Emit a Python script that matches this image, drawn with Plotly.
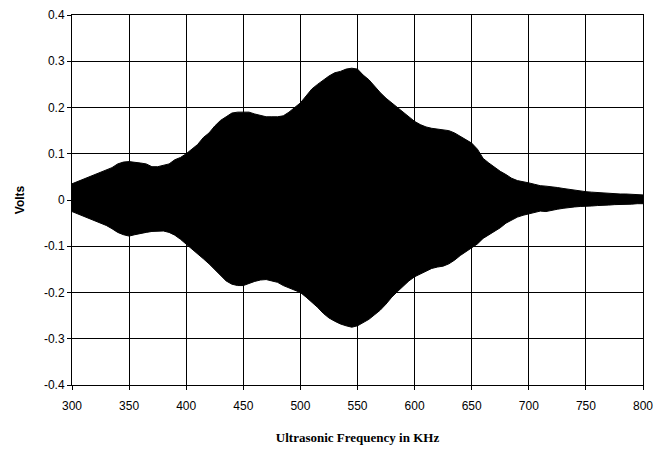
import plotly.graph_objects as go

freq_khz = list(range(300, 801, 5))

upper_volts = [
    0.035, 0.040, 0.045, 0.050, 0.055, 0.060, 0.065, 0.070, 0.078, 0.082,
    0.083, 0.082, 0.080, 0.078, 0.072, 0.072, 0.075, 0.078, 0.087, 0.092,
    0.100, 0.110, 0.120, 0.135, 0.145, 0.160, 0.172, 0.180, 0.188, 0.190,
    0.190, 0.190, 0.186, 0.183, 0.180, 0.180, 0.180, 0.182, 0.190, 0.200,
    0.210, 0.225, 0.240, 0.250, 0.260, 0.268, 0.275, 0.278, 0.283, 0.285,
    0.283, 0.270, 0.260, 0.245, 0.232, 0.220, 0.210, 0.200, 0.190, 0.180,
    0.170, 0.163, 0.158, 0.155, 0.153, 0.152, 0.150, 0.145, 0.138, 0.130,
    0.123, 0.110, 0.090, 0.080, 0.070, 0.062, 0.055, 0.047, 0.042, 0.040,
    0.037, 0.034, 0.031, 0.030, 0.029, 0.027, 0.025, 0.023, 0.022, 0.020,
    0.018, 0.017, 0.016, 0.015, 0.015, 0.014, 0.013, 0.013, 0.012, 0.012,
    0.011,
]

lower_volts = [
    -0.025, -0.030, -0.035, -0.040, -0.045, -0.050, -0.055, -0.062, -0.070, -0.075,
    -0.078, -0.075, -0.072, -0.070, -0.068, -0.068, -0.067, -0.070, -0.076, -0.085,
    -0.095, -0.105, -0.115, -0.127, -0.138, -0.150, -0.163, -0.175, -0.182, -0.185,
    -0.185, -0.180, -0.176, -0.173, -0.172, -0.175, -0.178, -0.185, -0.190, -0.196,
    -0.200, -0.210, -0.220, -0.232, -0.245, -0.255, -0.262, -0.268, -0.272, -0.275,
    -0.272, -0.265, -0.258, -0.248, -0.238, -0.225, -0.210, -0.198, -0.186, -0.175,
    -0.166, -0.160, -0.153, -0.148, -0.145, -0.143, -0.138, -0.130, -0.120, -0.112,
    -0.104, -0.095, -0.083, -0.075, -0.068, -0.060, -0.050, -0.043, -0.037, -0.033,
    -0.030, -0.027, -0.024, -0.025, -0.022, -0.020, -0.018, -0.016, -0.015, -0.014,
    -0.014, -0.013, -0.012, -0.012, -0.011, -0.010, -0.010, -0.009, -0.009, -0.008,
    -0.008,
]

x_ticks = [300, 350, 400, 450, 500, 550, 600, 650, 700, 750, 800]
y_ticks = [0.4, 0.3, 0.2, 0.1, 0, -0.1, -0.2, -0.3, -0.4]
y_tick_labels = ["0.4", "0.3", "0.2", "0.1", "0", "-0.1", "-0.2", "-0.3", "-0.4"]

fig = go.Figure()
fig.add_trace(go.Scatter(
    x=freq_khz, y=lower_volts, mode="lines",
    line=dict(color="black", width=1), showlegend=False, hoverinfo="skip",
))
fig.add_trace(go.Scatter(
    x=freq_khz, y=upper_volts, mode="lines", fill="tonexty",
    fillcolor="black", line=dict(color="black", width=1),
    showlegend=False, hoverinfo="skip",
))

fig.update_layout(
    width=667, height=449,
    margin=dict(l=72, r=24, t=15, b=64),
    paper_bgcolor="white", plot_bgcolor="white",
    font=dict(family="Liberation Sans, Arial, sans-serif", size=12, color="black"),
)
fig.update_xaxes(
    range=[300, 800], tickvals=x_ticks, ticktext=[str(v) for v in x_ticks],
    showgrid=True, gridcolor="black", gridwidth=1,
    showline=True, linecolor="black", linewidth=1, mirror=True,
    ticks="outside", ticklen=4, tickcolor="black",
    ticklabelstandoff=6, automargin=False,
    zeroline=False,
    title=dict(text="<b>Ultrasonic Frequency in KHz</b>",
               font=dict(family="Liberation Serif, Times New Roman, serif", size=13),
               standoff=20),
)
fig.update_yaxes(
    range=[-0.4, 0.4], tickvals=y_ticks, ticktext=y_tick_labels,
    showgrid=True, gridcolor="black", gridwidth=1,
    showline=True, linecolor="black", linewidth=1, mirror=True,
    ticks="outside", ticklen=4, tickcolor="black",
    automargin=False,
    zeroline=False,
    title=dict(text="<b>Volts</b>",
               font=dict(family="Liberation Sans, Arial, sans-serif", size=12),
               standoff=16),
)

fig.write_html("out.html")
